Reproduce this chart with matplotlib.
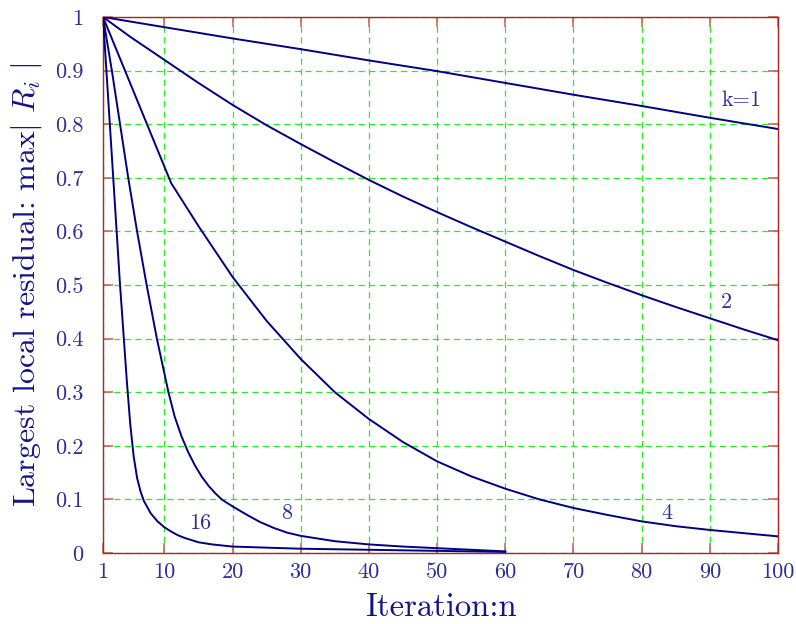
import matplotlib
matplotlib.use("Agg")
import matplotlib.pyplot as plt

plt.rcParams.update(
    {
        "font.family": "serif",
        "font.serif": ["cmr10"],
        "mathtext.fontset": "cm",
        "axes.formatter.use_mathtext": True,
    }
)

# values
k1_x = [1, 10, 20, 30, 40, 50, 60, 70, 80, 90, 100]
k1_y = [1.0, 0.981, 0.960, 0.940, 0.919, 0.899, 0.877, 0.855, 0.834, 0.812, 0.791]

k2_x = [1, 5, 10, 15, 20, 25, 30, 35, 40, 45, 50, 55, 60, 65, 70, 75, 80, 85, 90, 95, 100]
k2_y = [1.0, 0.963, 0.920, 0.877, 0.836, 0.798, 0.763, 0.729, 0.696, 0.665, 0.636,
        0.608, 0.581, 0.554, 0.528, 0.504, 0.481, 0.459, 0.438, 0.417, 0.397]

k4_x = [1, 11, 15, 20, 25, 30, 35, 40, 45, 50, 55, 60, 65, 70, 75, 80, 85, 90, 95, 100]
k4_y = [1.0, 0.69, 0.61, 0.515, 0.433, 0.362, 0.30, 0.25, 0.207, 0.171, 0.143, 0.12,
        0.10, 0.084, 0.071, 0.059, 0.050, 0.043, 0.037, 0.031]

k8_x = [1, 2.3, 3.5, 4.7, 6.0, 7.4, 8.9, 10.6, 11.5, 12.5, 13.5, 14.5, 15.5, 16.5, 17.5,
        18.5, 20, 22, 24, 26, 28, 30, 35, 40, 45, 50, 55, 60]
k8_y = [1.0, 0.9, 0.8, 0.7, 0.6, 0.5, 0.4, 0.3, 0.255, 0.218, 0.188, 0.163, 0.142, 0.125,
        0.111, 0.099, 0.087, 0.072, 0.058, 0.047, 0.038, 0.032, 0.022, 0.016, 0.012, 0.009,
        0.006, 0.003]

k16_x = [1, 1.5, 2, 2.5, 3, 3.5, 4, 4.5, 5, 5.5, 6, 6.5, 7, 8, 9, 10, 11, 12, 13, 14, 15,
         17, 20, 25, 30, 40, 50, 60]
k16_y = [1.0, 0.9, 0.8, 0.7, 0.6, 0.5, 0.41, 0.32, 0.24, 0.18, 0.14, 0.115, 0.097, 0.074,
         0.059, 0.048, 0.040, 0.033, 0.028, 0.024, 0.020, 0.016, 0.012, 0.010, 0.008, 0.006,
         0.004, 0.002]

curve_labels = ["k=1", "2", "4", "8", "16"]
label_x = [94.6, 92.5, 83.7, 27.9, 15.2]
label_y = [0.845, 0.468, 0.074, 0.074, 0.055]

x_ticks = [1, 10, 20, 30, 40, 50, 60, 70, 80, 90, 100]
y_ticks = [0, 0.1, 0.2, 0.3, 0.4, 0.5, 0.6, 0.7, 0.8, 0.9, 1]
y_tick_labels = ["0", "0.1", "0.2", "0.3", "0.4", "0.5", "0.6", "0.7", "0.8", "0.9", "1"]

line_col = "#000080"
text_col = "#2e2e96"
label_col = "#14148a"
frame_col = "#b22222"

fig = plt.figure(figsize=(7.96, 6.24), dpi=100)
ax = fig.add_axes([103 / 796, 71 / 624, 675 / 796, 536 / 624])

for xs, ys in [(k1_x, k1_y), (k2_x, k2_y), (k4_x, k4_y), (k8_x, k8_y), (k16_x, k16_y)]:
    ax.plot(xs, ys, color=line_col, lw=1.4, zorder=3)

for txt, lx, ly in zip(curve_labels, label_x, label_y):
    ax.text(lx, ly, txt, color=text_col, fontsize=16, ha="center", va="center")

ax.set_xlim(1, 100)
ax.set_ylim(0, 1)
ax.set_xticks(x_ticks)
ax.set_xticklabels([str(v) for v in x_ticks])
ax.set_yticks(y_ticks)
ax.set_yticklabels(y_tick_labels)

ax.grid(True, color="#22ee22", linestyle=(0, (5, 3.5)), lw=0.9)
ax.tick_params(
    direction="in",
    length=7,
    width=1.2,
    color="#c86a6a",
    labelcolor=text_col,
    labelsize=16,
    top=True,
    right=True,
)
ax.tick_params(axis="x", pad=7)
ax.tick_params(axis="y", pad=14)
for sp in ax.spines.values():
    sp.set_color(frame_col)
    sp.set_linewidth(1.0)

ax.set_xlabel("Iteration:n", fontsize=23.5, color=label_col, labelpad=8)
ax.set_ylabel(r"Largest local residual: max$|\ R_i\ |$", fontsize=23, color=label_col, labelpad=8)

fig.savefig("out.png", dpi=100)
